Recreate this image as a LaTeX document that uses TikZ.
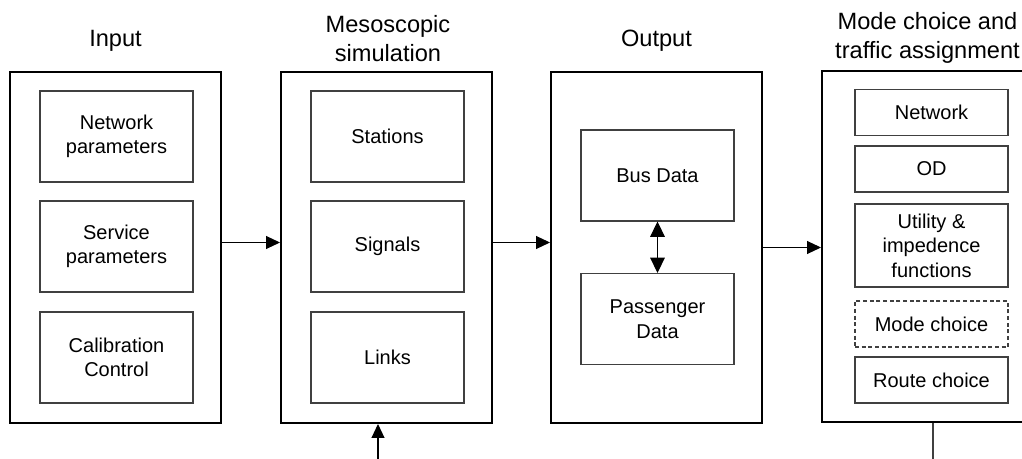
\documentclass[tikz,border=0pt]{standalone}
\usepackage{fontspec}
\setmainfont{Liberation Sans}
\usetikzlibrary{arrows.meta}
\begin{document}
\begin{tikzpicture}[x=0.75pt,y=-0.75pt,
  outer/.style={draw,line width=1.5pt,minimum width=158.25pt,minimum height=263.25pt,inner sep=0pt},
  part/.style={draw=black!75,line width=0.8pt,minimum width=114.75pt,minimum height=68.25pt,align=center,inner sep=0pt,font=\fontsize{15}{18.4}\selectfont},
  small/.style={part,minimum height=34.5pt},
  title/.style={anchor=base,align=center,font=\fontsize{17.7}{21.75}\selectfont},
  tip/.style={Triangle[length=10.5pt,width=9.75pt]},
  arr/.style={-{Triangle[length=10.5pt,width=9.75pt]},line width=0.8pt}]
\useasboundingbox (0,0) rectangle (1022,459);
\clip (0,0) rectangle (1022,459);

\node[title] (tinp) at (115.5,47) {Input};
\node[outer] (inp) at (115.5,247.5) {};
\node[part] (netpar) at (116.5,136.5) {Network\\parameters};
\node[part] (srvpar) at (116.5,246.5) {Service\\parameters};
\node[part] (calib) at (116.5,357.5) {Calibration\\Control};

\node[title] (tmeso) at (388,62) {Mesoscopic\\simulation};
\node[outer] (meso) at (386.5,247.5) {};
\node[part] (stat) at (387.5,136.5) {Stations};
\node[part] (sig) at (387.5,246.5) {Signals};
\node[part] (links) at (387.5,357.5) {Links};

\node[title] (tout) at (656.5,47) {Output};
\node[outer] (out) at (656.5,247.5) {};
\node[part] (bus) at (657.5,175.5) {Bus Data};
\node[part] (pas) at (657.5,319) {Passenger\\Data};

\node[title] (tmode) at (927.5,59) {Mode choice and\\traffic assignment};
\node[outer] (mode) at (927.5,247) {};
\node[small] (net) at (931.5,112.5) {Network};
\node[small] (od) at (931.5,169) {OD};
\node[part,minimum height=62.25pt] (util) at (931.5,245.5) {Utility \&\\impedence\\functions};
\node[small,dash pattern=on 3pt off 2pt] (mc) at (931.5,324) {Mode choice};
\node[small] (rc) at (931.5,380) {Route choice};

\draw[arr] ([yshift=3.75pt]inp.east) -- ([yshift=3.75pt]meso.west);
\draw[arr] ([yshift=3.75pt]meso.east) -- ([yshift=3.75pt]out.west);
\draw[arr] (out.east) -- (out.east -| mode.west);
\draw[{Triangle[length=11.5pt,width=11pt]}-{Triangle[length=11.5pt,width=11pt]},line width=0.8pt] (bus.south) -- (pas.north);

\coordinate (feed) at (378,459);
\draw[arr] (feed) -- (feed |- meso.south);
\coordinate (mcend) at (933,459);
\draw[draw=black!75,line width=0.8pt] (mode.south -| mcend) -- (mcend);
\end{tikzpicture}
\end{document}
